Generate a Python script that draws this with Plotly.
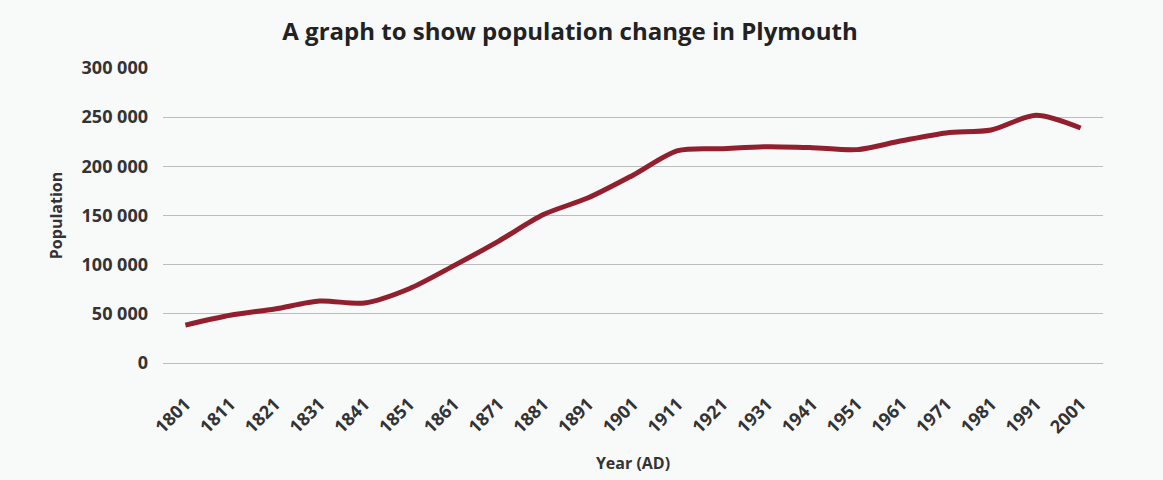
import plotly.graph_objects as go

years = ["1801", "1811", "1821", "1831", "1841", "1851", "1861", "1871", "1881", "1891",
         "1901", "1911", "1921", "1931", "1941", "1951", "1961", "1971", "1981", "1991", "2001"]
population = [38500, 48500, 55000, 63000, 61000, 75500, 99000, 124000, 151000, 168000,
              191000, 216000, 218000, 220000, 219000, 217000, 226000, 234000, 237000, 252000, 239000]
y_ticks = [0, 50000, 100000, 150000, 200000, 250000, 300000]

title_text = "A graph to show population change in Plymouth"
x_title = "Year (AD)"
y_title = "Population"

FONT = "Open Sans"
TXT = "#333333"

fig = go.Figure()
fig.add_trace(go.Scatter(
    x=years, y=population, mode="lines",
    line=dict(color="#921f2e", width=5, shape="spline", smoothing=0.8),
    hoverinfo="x+y", showlegend=False,
))

fig.update_layout(
    width=1163, height=480,
    margin=dict(l=163, r=60, t=68, b=117),
    paper_bgcolor="#f8f9f9",
    plot_bgcolor="#f8f9f9",
    separators=". ",
    title=dict(
        text="<b>" + title_text + "</b>",
        font=dict(family=FONT, size=24, color="#222222"),
        x=570 / 1163, xref="container", xanchor="center",
        y=1 - 32 / 480, yref="container", yanchor="middle",
    ),
    xaxis=dict(
        type="category",
        range=[-0.5, len(years) - 0.5],
        tickangle=-45,
        tickfont=dict(family=FONT, size=18, color=TXT, weight="bold"),
        showgrid=False, showline=False, zeroline=False,
        ticks="", ticklabelstandoff=26,
        title=dict(text="<b>" + x_title + "</b>",
                   font=dict(family=FONT, size=16, color=TXT), standoff=20),
    ),
    yaxis=dict(
        range=[0, 300000],
        tickvals=y_ticks,
        tickformat=",",
        tickfont=dict(family=FONT, size=18, color=TXT, weight="bold"),
        showgrid=True, gridcolor="#bdbdbd", gridwidth=1,
        zeroline=True, zerolinecolor="#bdbdbd", zerolinewidth=1,
        showline=False, ticks="", ticklabelstandoff=14,
        title=dict(text="<b>" + y_title + "</b>",
                   font=dict(family=FONT, size=16, color=TXT), standoff=14),
    ),
)

fig.write_html("out.html")
